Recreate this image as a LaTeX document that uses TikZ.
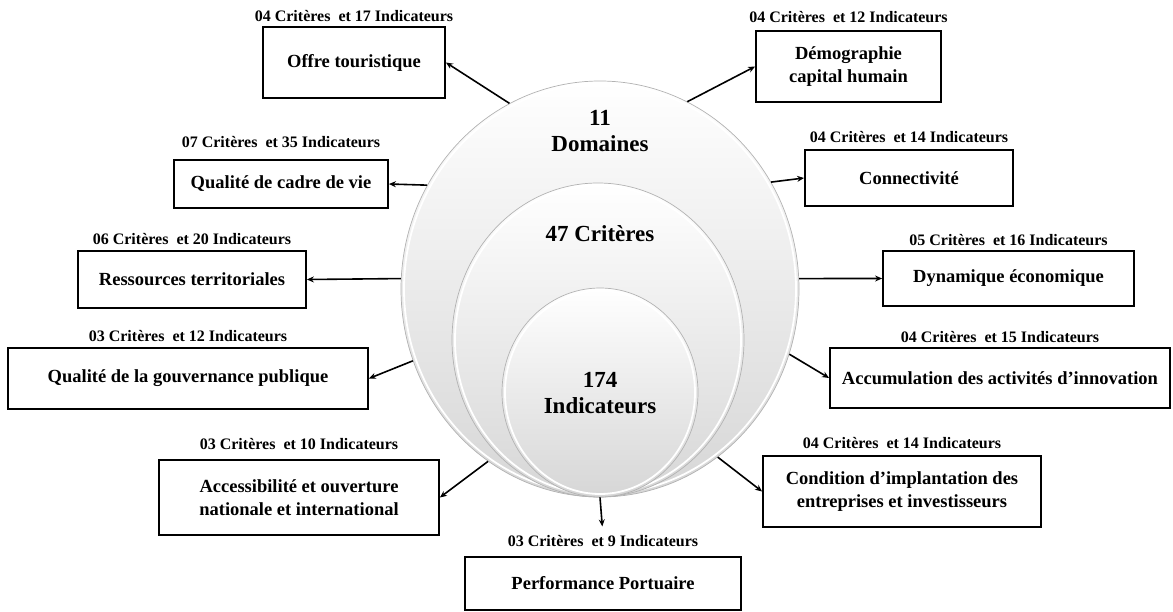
\documentclass[tikz,border=0pt]{standalone}
\usepackage{fontspec}
\setmainfont{Liberation Serif}
\usetikzlibrary{arrows.meta,positioning}
\usepgflibrary{shapes.geometric}

\newcommand{\critind}[2]{#1 Critères\ \ et #2 Indicateurs}

\begin{document}
\begin{tikzpicture}[x=1pt, y=-1pt, >={Stealth[length=7pt,width=6pt]},
        boite/.style={draw, line width=1.8pt, align=center, inner sep=0pt,
            font=\bfseries\fontsize{18.5}{23}\selectfont},
        etiq/.style={inner sep=0pt, font=\bfseries\fontsize{16}{18}\selectfont},
        cercle/.style={ellipse, inner sep=0pt, draw=gray!60, line width=0.7pt,
            top color=white, bottom color=black!16},
        titre/.style={align=center, font=\bfseries\fontsize{23}{26}\selectfont},
        fleche/.style={->, line width=1.6pt}]
        \useasboundingbox (0,0) rectangle (1173,612);

        % cercles imbriques
        \node[cercle, minimum width=398pt, minimum height=416pt] (dom) at (600,289) {};
        \draw[white, line width=1.8pt] (dom.center) ellipse [x radius=196pt, y radius=205pt];
        \node[cercle, minimum width=292pt, minimum height=314pt] (crit) at (598,340) {};
        \draw[white, line width=1.8pt] (crit.center) ellipse [x radius=143pt, y radius=154pt];
        \node[cercle, minimum width=196pt, minimum height=209pt] (ind) at (600,392.5) {};
        \draw[white, line width=1.8pt] (ind.center) ellipse [x radius=95pt, y radius=101.5pt];

        \node[titre] (domT) at (600,131) {11\\Domaines};
        \node[titre] (critT) at (600,234) {47 Critères};
        \node[titre] (indT) at (600,393) {174\\Indicateurs};

        % domaines a gauche
        \node[boite, minimum width=182pt, minimum height=71pt] (offre) at (354,62.5) {Offre touristique};
        \node[boite, minimum width=214pt, minimum height=48pt] (cadre) at (281,184) {Qualité de cadre de vie};
        \node[boite, minimum width=228pt, minimum height=57pt] (res) at (192,279.5) {Ressources territoriales};
        \node[boite, minimum width=360pt, minimum height=61pt] (gouv) at (188,378.5) {Qualité de la gouvernance publique};
        \node[boite, minimum width=280pt, minimum height=75pt] (acc) at (299,497.5) {Accessibilité et ouverture\\nationale et international};
        \node[boite, minimum width=276pt, minimum height=53pt] (perf) at (603,583.5) {Performance Portuaire};

        % domaines a droite
        \node[boite, minimum width=185pt, minimum height=71pt] (demo) at (848.5,66.5) {Démographie\\capital humain};
        \node[boite, minimum width=208pt, minimum height=56pt] (conn) at (909,178) {Connectivité};
        \node[boite, minimum width=251pt, minimum height=55pt] (dyn) at (1008.5,278.5) {Dynamique économique};
        \node[boite, minimum width=340pt, minimum height=60pt] (accu) at (1000,378) {Accumulation des activités d’innovation};
        \node[boite, minimum width=278pt, minimum height=71pt] (cond) at (902,491.5) {Condition d’implantation des\\entreprises et investisseurs};

        \node[etiq, above=4pt of offre] (offreE) {\critind{04}{17}};
        \node[etiq, above=11pt of cadre] (cadreE) {\critind{07}{35}};
        \node[etiq, above=5pt of res] (resE) {\critind{06}{20}};
        \node[etiq, above=5pt of gouv] (gouvE) {\critind{03}{12}};
        \node[etiq, above=9pt of acc] (accE) {\critind{03}{10}};
        \node[etiq, above=9pt of perf] (perfE) {\critind{03}{9}};
        \node[etiq, above=7pt of demo] (demoE) {\critind{04}{12}};
        \node[etiq, above=6pt of conn] (connE) {\critind{04}{14}};
        \node[etiq, above=4pt of dyn] (dynE) {\critind{05}{16}};
        \node[etiq, above=4pt of accu] (accuE) {\critind{04}{15}};
        \node[etiq, above=6pt of cond] (condE) {\critind{04}{14}};

        % fleches
        \draw[fleche] (dom.116) -- (offre.east);
        \draw[fleche] (dom.149) -- (cadre.east);
        \draw[fleche] (dom.177) -- (res.east);
        \draw[fleche] (dom.201) -- (gouv.east);
        \draw[fleche] (dom.237) -- (acc.east);
        \draw[fleche, shorten >=9pt] (dom.south) -- (perfE.north);
        \draw[fleche] (dom.65) -- (demo.west);
        \draw[fleche] (dom.32) -- (conn.west);
        \draw[fleche] (dom.3) -- (dyn.west);
        \draw[fleche] (dom.-19) -- (accu.west);
        \draw[fleche] (dom.-55) -- (cond.west);
\end{tikzpicture}
\end{document}
